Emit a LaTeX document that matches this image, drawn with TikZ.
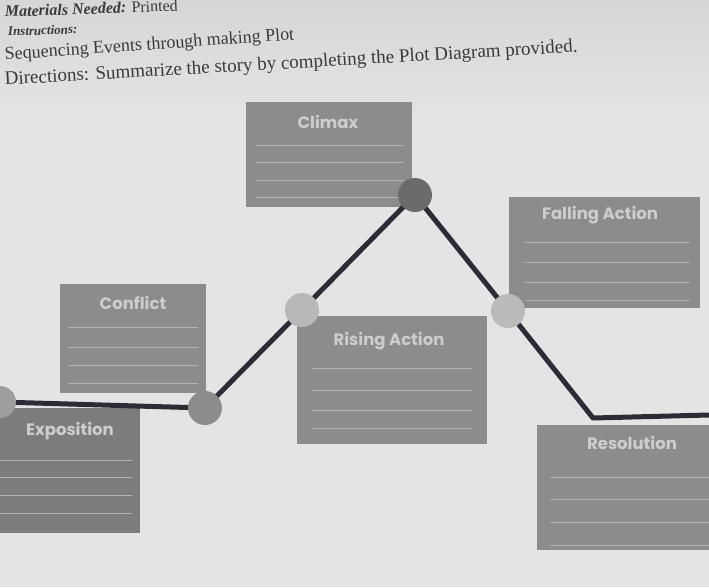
\documentclass[tikz,border=0pt]{standalone}
\usepackage{fontspec}
\setmainfont{Liberation Serif}
\newfontfamily\labelfont{Poppins}
\usetikzlibrary{calc}
\definecolor{paper}{HTML}{D6D6D6}
\definecolor{paperlight}{HTML}{E4E4E4}
\definecolor{boxgray}{HTML}{8C8C8C}
\definecolor{boxdark}{HTML}{7C7C7C}
\definecolor{linegray}{HTML}{B2B2B2}
\definecolor{lblgray}{HTML}{CDCDCD}
\definecolor{plotdark}{HTML}{2C2C36}
\definecolor{inkgray}{HTML}{3A3A3A}
\begin{document}
\begin{tikzpicture}[x=1pt,y=-1pt,
  box/.style={draw=none, fill=boxgray, anchor=north west, inner sep=0pt},
  boxline/.style={draw=linegray, line width=0.9pt},
  lbl/.style={text=lblgray, font=\labelfont\bfseries\fontsize{16.5}{16.5}\selectfont, anchor=center, inner sep=0pt},
  dot/.style={circle, minimum size=34pt, inner sep=0pt},
  plotline/.style={draw=plotdark, line width=5pt},
  hdr/.style={text=inkgray, anchor=base west, inner sep=0pt}]
\useasboundingbox (0,0) rectangle (709,587);
\fill[paperlight] (0,0) rectangle (709,587);
\shade[top color=paper, bottom color=paperlight] (0,0) rectangle (709,120);

% header text
\node[hdr, rotate=2, font=\bfseries\itshape\fontsize{16}{16}\selectfont] (mat) at (5,17) {Materials Needed: \mdseries\upshape Printed};
\node[hdr, rotate=2, font=\bfseries\itshape\fontsize{13}{13}\selectfont] (ins) at (8,36) {Instructions:};
\node[hdr, rotate=4, font=\fontsize{18}{18}\selectfont] (seq) at (5,60) {Sequencing Events through making Plot};
\node[hdr, rotate=3.3, font=\fontsize{19}{19}\selectfont] (dir) at (5,85) {Directions: Summarize the story by completing the Plot Diagram provided.};

% boxes
\node[box, minimum width=166pt, minimum height=105pt] (climax) at (246,102) {};
\node[box, minimum width=146pt, minimum height=109pt] (conflict) at (60,284) {};
\node[box, fill=boxdark, minimum width=140pt, minimum height=125pt] (expo) at (0,408) {};
\node[box, minimum width=190pt, minimum height=128pt] (rising) at (297,316) {};
\node[box, minimum width=191pt, minimum height=111pt] (falling) at (509,197) {};
\node[box, minimum width=172pt, minimum height=125pt] (resol) at (537,425) {};

% writing lines in boxes
\foreach \yy in {145,162,180,197} \draw[boxline] (256,\yy) -- (404,\yy);
\foreach \yy in {327,347,365,383} \draw[boxline] (68,\yy) -- (198,\yy);
\foreach \yy in {460,477,495,513} \draw[boxline] (0,\yy) -- (132,\yy);
\foreach \yy in {368,390,410,428} \draw[boxline] (312,\yy) -- (472,\yy);
\foreach \yy in {242,262,282,300} \draw[boxline] (525,\yy) -- (690,\yy);
\foreach \yy in {477,499,522,545} \draw[boxline] (550,\yy) -- (709,\yy);

% labels
\node[lbl] (lclimax) at (328,122) {Climax};
\node[lbl] (lconflict) at (133,303) {Conflict};
\node[lbl] (lexpo) at (70,431) {Exposition};
\node[lbl] (lrising) at (389,341) {Rising Action};
\node[lbl] (lfalling) at (600,215) {Falling Action};
\node[lbl] (lresol) at (632,443) {Resolution};

% plot line
\coordinate (e0) at (0,402);
\coordinate (d1) at (205,408);
\coordinate (d2) at (302,310);
\coordinate (d3) at (415,195);
\coordinate (d4) at (508,311);
\coordinate (bend) at (593,418);
\coordinate (rend) at (709,415);
\draw[plotline, line join=round] (e0) -- (d1) -- (d2) -- (d3) -- (d4) -- (bend) -- (rend);

% dots
\node[dot, minimum size=32pt, fill=black!38] (p0) at (e0) {};
\node[dot, fill=black!45] (p1) at (d1) {};
\node[dot, fill=black!28] (p2) at (d2) {};
\node[dot, fill=black!58] (p3) at (d3) {};
\node[dot, fill=black!27] (p4) at (d4) {};
\end{tikzpicture}
\end{document}
